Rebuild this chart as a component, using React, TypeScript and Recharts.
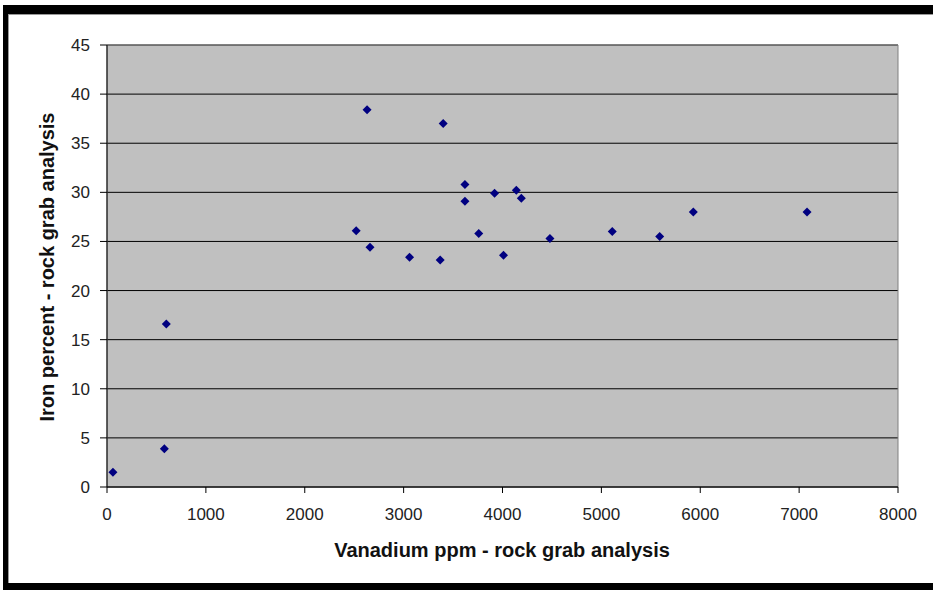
import React from "react";
import {
  ScatterChart,
  Scatter,
  XAxis,
  YAxis,
  CartesianGrid,
  ReferenceArea,
} from "recharts";

// vanadium (ppm) vs iron (%) from rock grab samples
const vanadium = [
  60, 580, 600, 2520, 2630, 2660, 3060, 3370, 3400, 3620, 3620, 3760, 3920,
  4010, 4140, 4190, 4480, 5110, 5590, 5930, 7080,
];
const iron = [
  1.5, 3.9, 16.6, 26.1, 38.4, 24.4, 23.4, 23.1, 37.0, 30.8, 29.1, 25.8, 29.9,
  23.6, 30.2, 29.4, 25.3, 26.0, 25.5, 28.0, 28.0,
];
const xTicks = [0, 1000, 2000, 3000, 4000, 5000, 6000, 7000, 8000];
const yTicks = [0, 5, 10, 15, 20, 25, 30, 35, 40, 45];

const points = vanadium.map((v, i) => ({ v, fe: iron[i] }));

const Diamond = (props: any) => {
  const { cx, cy } = props;
  const r = 4.5;
  return (
    <polygon
      points={`${cx},${cy - r} ${cx + r},${cy} ${cx},${cy + r} ${cx - r},${cy}`}
      fill="#000080"
    />
  );
};

const tickStyle = { fontFamily: "Liberation Sans, Arial, sans-serif", fontSize: 17, fill: "#222" };
const titleStyle: React.CSSProperties = {
  position: "absolute",
  fontFamily: "Liberation Sans, Arial, sans-serif",
  fontWeight: "bold",
  fontSize: 20,
  color: "#111",
  whiteSpace: "nowrap",
};

export default function App() {
  return (
    <div style={{ position: "fixed", left: 0, top: 0, width: 933, height: 590, background: "#fff", overflow: "hidden" }}>
      {/* black frame */}
      <div style={{ position: "absolute", left: 3, top: 5, width: 930, height: 9, background: "#000" }} />
      <div style={{ position: "absolute", left: 3, top: 5, width: 5, height: 585, background: "#000" }} />
      <div style={{ position: "absolute", left: 3, top: 583, width: 930, height: 7, background: "#000" }} />
      <div style={{ position: "absolute", left: 8, top: 14, width: 925, height: 1, background: "#999" }} />
      <div style={{ position: "absolute", left: 8, top: 14, width: 1, height: 569, background: "#999" }} />
      <div style={{ position: "absolute", left: 0, top: 0 }}>
        <ScatterChart width={933} height={590} margin={{ top: 45, right: 35, bottom: 73, left: 47 }}>
          <CartesianGrid fill="#c0c0c0" stroke="#000" vertical={false} />
          <XAxis
            type="number"
            dataKey="v"
            domain={[0, 8000]}
            ticks={xTicks}
            interval={0}
            height={30}
            stroke="#000"
            tickSize={6}
            tickMargin={15}
            tick={tickStyle}
          />
          <YAxis
            type="number"
            dataKey="fe"
            domain={[0, 45]}
            ticks={yTicks}
            interval={0}
            width={60}
            stroke="#000"
            tickSize={7}
            tickMargin={10}
            tick={tickStyle}
          />
          <ReferenceArea x1={0} x2={8000} y1={0} y2={45} fill="none" stroke="#808080" />
          <Scatter data={points} shape={Diamond} isAnimationActive={false} />
        </ScatterChart>
      </div>
      <div style={{ ...titleStyle, left: 502, top: 550, transform: "translate(-50%, -50%)" }}>
        Vanadium ppm - rock grab analysis
      </div>
      <div style={{ ...titleStyle, left: 47, top: 267, transform: "translate(-50%, -50%) rotate(-90deg)" }}>
        Iron percent - rock grab analysis
      </div>
    </div>
  );
}
